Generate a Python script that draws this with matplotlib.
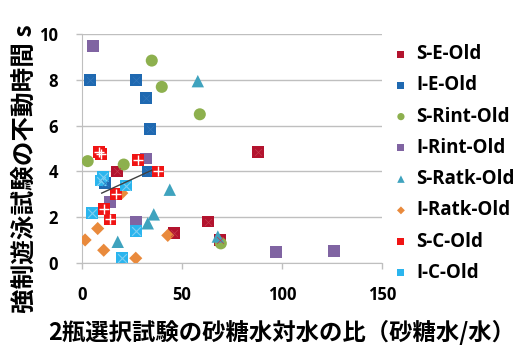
import matplotlib
matplotlib.use("Agg")
import matplotlib.pyplot as plt

# --- data ---
series_names = ["S-E-Old", "I-E-Old", "S-Rint-Old", "I-Rint-Old",
                "S-Ratk-Old", "I-Ratk-Old", "S-C-Old", "I-C-Old"]

se_x = [17.5, 46, 63, 69, 88]
se_y = [4.0, 1.3, 1.8, 1.0, 4.85]

ie_x = [4, 27, 32, 34, 33, 11.5]
ie_y = [8.0, 8.0, 7.2, 5.85, 4.0, 3.5]

srint_x = [3, 21, 35, 40, 59, 69.5]
srint_y = [4.45, 4.3, 8.85, 7.7, 6.5, 0.85]

irint_x = [5.5, 32, 14, 27, 97, 126]
irint_y = [9.5, 4.57, 2.65, 1.8, 0.46, 0.53]

sratk_x = [18, 33, 36, 44, 58, 68]
sratk_y = [0.92, 1.73, 2.12, 3.2, 7.95, 1.15]

iratk_x = [1.7, 8, 11, 20, 27, 43]
iratk_y = [1.0, 1.5, 0.55, 3.05, 0.2, 1.2]

sc_x = [8.8, 9.7, 28, 38, 17, 11, 14]
sc_y = [4.86, 4.75, 4.5, 4.0, 3.0, 2.35, 1.9]

ic_x = [5, 9.7, 10.5, 20, 22, 27]
ic_y = [2.17, 3.6, 3.77, 0.2, 3.38, 1.4]

trend_x = [10, 35]
trend_y = [3.05, 4.05]

xticks = [0, 50, 100, 150]
yticks = [0, 2, 4, 6, 8, 10]

# --- styling ---
colors = ["#B3132E", "#1F69B1", "#8DB04E", "#8064A2",
          "#3FA3BE", "#E98A3C", "#F01414", "#2BB5EE"]
markers = ["s", "s", "o", "s", "^", "D", "s", "s"]
sizes = [70, 70, 75, 70, 80, 45, 70, 70]

fig = plt.figure(figsize=(5.19, 3.48), dpi=100)
ax = fig.add_axes([0.1574, 0.2448, 0.5786, 0.6566])

xs = [se_x, ie_x, srint_x, irint_x, sratk_x, iratk_x, sc_x, ic_x]
ys = [se_y, ie_y, srint_y, irint_y, sratk_y, iratk_y, sc_y, ic_y]
handles = []
for x, y, c, m, s, name in zip(xs, ys, colors, markers, sizes, series_names):
    h = ax.scatter(x, y, s=s, marker=m, color=c, edgecolors="none",
                   label=name, zorder=3)
    handles.append(h)

# pattern marks inside the patterned squares
ax.scatter(sc_x, sc_y, s=45, marker="+", color="white", linewidths=1.0, zorder=4)
ax.scatter(ic_x, ic_y, s=40, marker="x", color="#7FCFF2", linewidths=0.8, zorder=4)
ax.scatter(se_x, se_y, s=25, marker="x", color="#C23A4C", linewidths=0.5, zorder=4)
ax.scatter(ie_x, ie_y, s=25, marker="x", color="#3577BA", linewidths=0.5, zorder=4)

ax.plot(trend_x, trend_y, color="#404040", lw=1.0, zorder=5)

ax.set_xlim(0, 150)
ax.set_ylim(0, 10)
ax.set_xticks(xticks)
ax.set_yticks(yticks)
ax.grid(axis="y", color="#BFBFBF", lw=1.0)
ax.set_axisbelow(True)
for sp in ["top", "right"]:
    ax.spines[sp].set_visible(False)
for sp in ["left", "bottom"]:
    ax.spines[sp].set_color("#BFBFBF")
ax.tick_params(colors="#BFBFBF", length=4, width=1.0, pad=13)
for lab in ax.get_xticklabels() + ax.get_yticklabels():
    lab.set_color("black")
    lab.set_fontfamily("Open Sans")
    lab.set_fontweight("bold")
    lab.set_fontsize(12)

fig.text(0.048, 0.514, "強制遊泳試験の不動時間 s", rotation=90, ha="center", va="center",
         fontsize=17.7, fontweight="bold", family=["Noto Sans CJK JP", "DejaVu Sans"])
fig.text(0.543, 0.045, "2瓶選択試験の砂糖水対水の比（砂糖水/水）", ha="center", va="center",
         fontsize=16.8, fontweight="bold", family=["Noto Sans CJK JP", "DejaVu Sans"])

leg = fig.legend(handles=handles, loc="upper left", bbox_to_anchor=(0.74, 0.895),
                 frameon=False, markerscale=0.6, handletextpad=0.3, handlelength=1.0,
                 labelspacing=0.6, borderaxespad=0,
                 prop={"family": "Open Sans", "weight": "bold", "size": 13.5})

fig.savefig("out.png", dpi=100)
